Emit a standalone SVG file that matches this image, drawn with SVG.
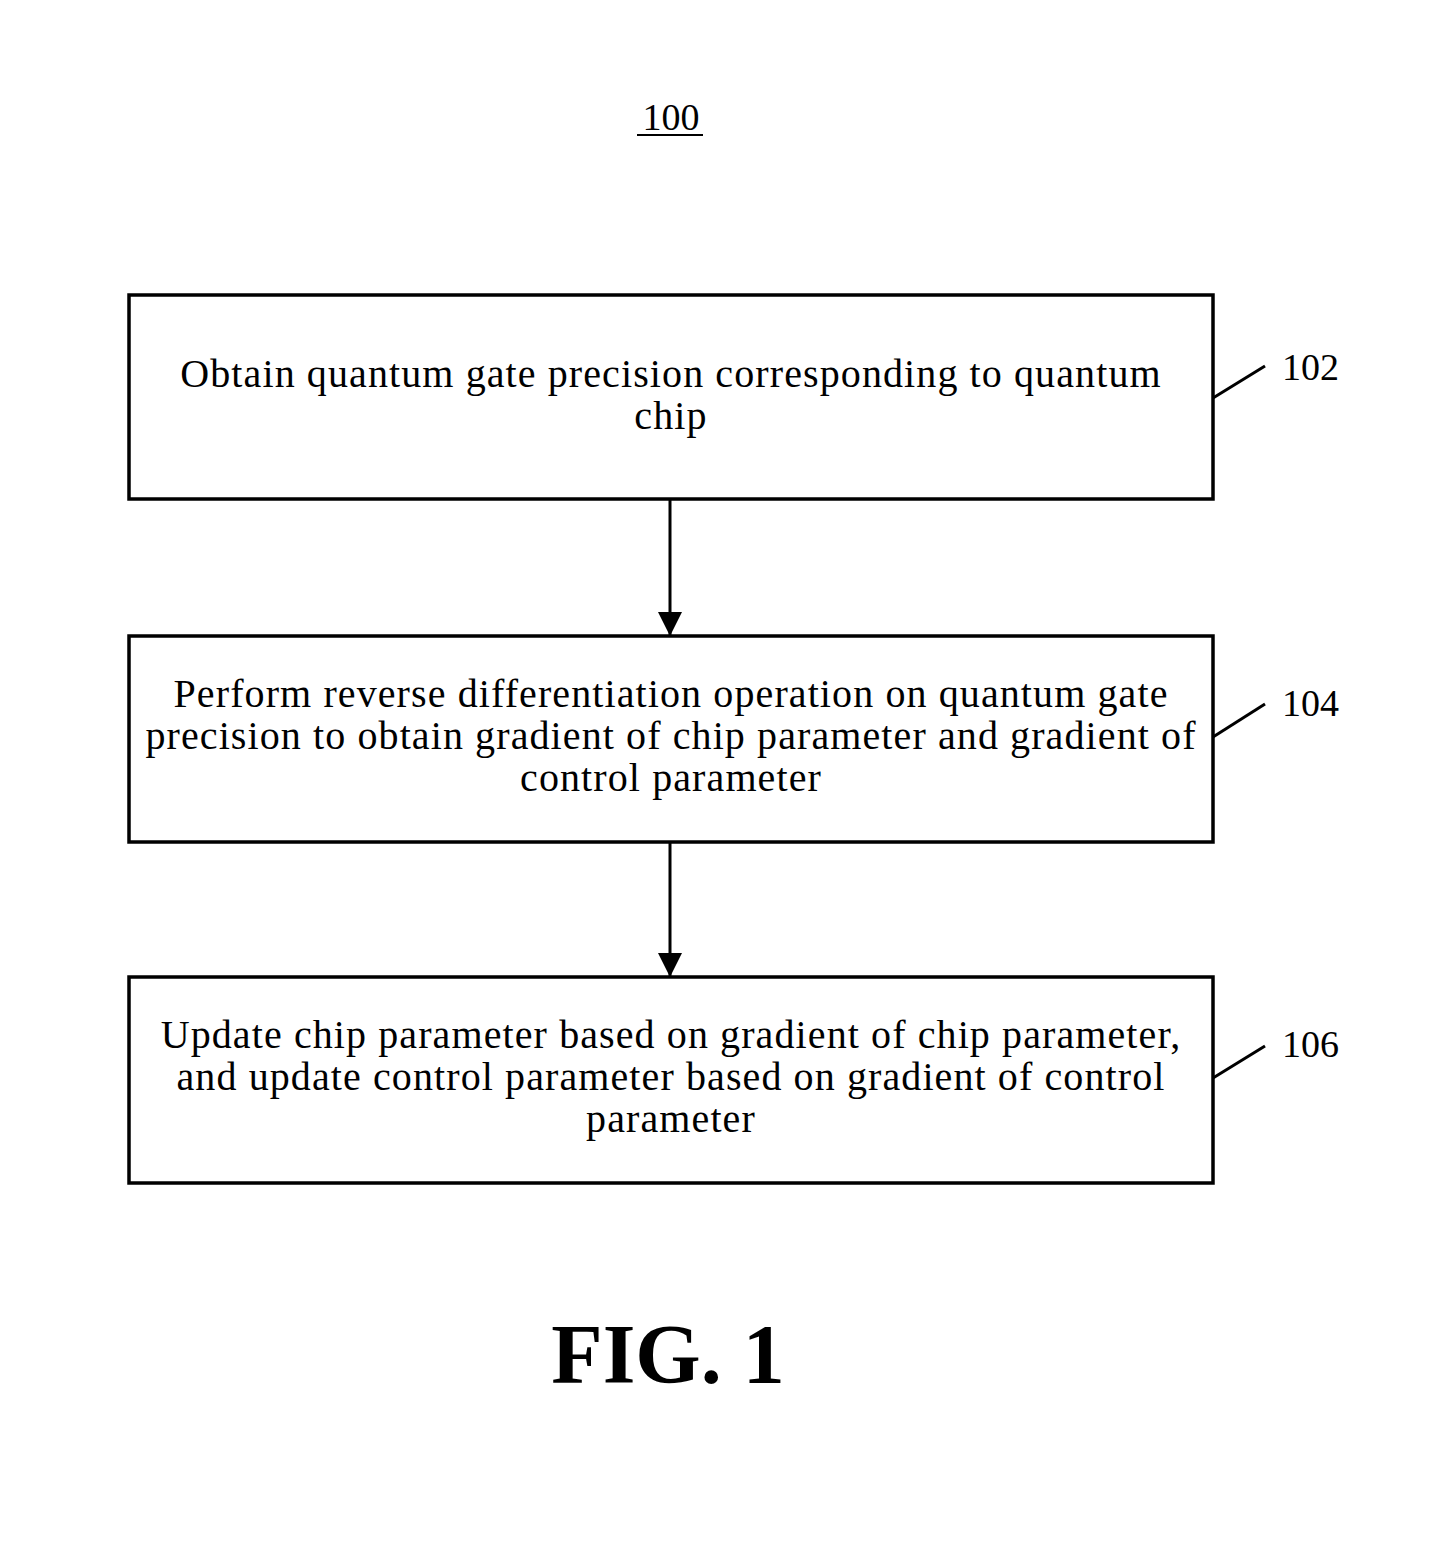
<svg xmlns="http://www.w3.org/2000/svg" width="1442" height="1542" viewBox="0 0 1442 1542">
<defs>
<style>
.box{fill:#fff;stroke:#000;stroke-width:3.5}
.t{font-family:"Liberation Serif","Times New Roman",serif;font-size:40px;letter-spacing:1.1px;fill:#000;text-anchor:middle}
.lbl{font-family:"Liberation Serif","Times New Roman",serif;font-size:38px;fill:#000}
.ln{stroke:#000;stroke-width:3;fill:none}
</style>
<marker id="ah" markerWidth="8" markerHeight="8" refX="8" refY="4" orient="auto" markerUnits="strokeWidth">
<path d="M0,0 L8,4 L0,8 Z" fill="#000"/>
</marker>
</defs>
<rect width="1442" height="1542" fill="#fff"/>
<g id="title">
<text x="671" y="130" class="lbl" text-anchor="middle">100</text>
<line x1="637" y1="135" x2="703" y2="135" stroke="#000" stroke-width="2"/>
</g>
<g id="connectors">
<line x1="670" y1="499" x2="670" y2="636" class="ln" marker-end="url(#ah)"/>
<line x1="670" y1="842" x2="670" y2="977" class="ln" marker-end="url(#ah)"/>
<line x1="1213" y1="398" x2="1265" y2="366" class="ln" stroke-width="2.5"/>
<line x1="1213" y1="737" x2="1265" y2="704" class="ln" stroke-width="2.5"/>
<line x1="1213" y1="1078" x2="1265" y2="1046" class="ln" stroke-width="2.5"/>
</g>
<g id="n102">
<rect x="129" y="295" width="1084" height="204" class="box"/>
<text class="t"><tspan x="671" y="387">Obtain quantum gate precision corresponding to quantum</tspan><tspan x="671" y="429">chip</tspan></text>
<text x="1282" y="380" class="lbl">102</text>
</g>
<g id="n104">
<rect x="129" y="636" width="1084" height="206" class="box"/>
<text class="t"><tspan x="671" y="707">Perform reverse differentiation operation on quantum gate</tspan><tspan x="671" y="749">precision to obtain gradient of chip parameter and gradient of</tspan><tspan x="671" y="791">control parameter</tspan></text>
<text x="1282" y="716" class="lbl">104</text>
</g>
<g id="n106">
<rect x="129" y="977" width="1084" height="206" class="box"/>
<text class="t"><tspan x="671" y="1048">Update chip parameter based on gradient of chip parameter,</tspan><tspan x="671" y="1090">and update control parameter based on gradient of control</tspan><tspan x="671" y="1132">parameter</tspan></text>
<text x="1282" y="1057" class="lbl">106</text>
</g>
<g id="fig">
<text x="668" y="1383" font-family="'Liberation Serif','Times New Roman',serif" font-size="84" font-weight="bold" text-anchor="middle">FIG. 1</text>
</g>
</svg>
